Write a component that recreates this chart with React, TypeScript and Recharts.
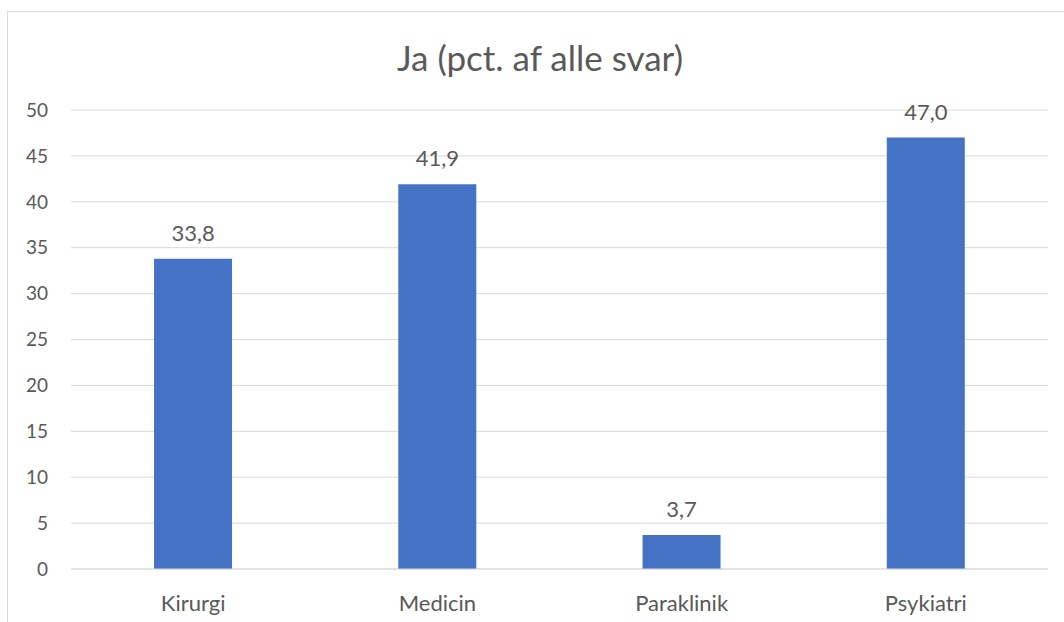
import { BarChart, Bar, XAxis, YAxis, CartesianGrid, LabelList } from "recharts";

const categories = ["Kirurgi", "Medicin", "Paraklinik", "Psykiatri"];
const values = [33.8, 41.9, 3.7, 47.0];
const yTicks = [0, 5, 10, 15, 20, 25, 30, 35, 40, 45, 50];

const data = categories.map((c, i) => ({ name: c, ja: values[i] }));
const font = "Lato, 'Open Sans', sans-serif";
const grey = "#595959";

export default function App() {
  return (
    <div style={{ position: "fixed", left: 0, top: 0, width: 1064, height: 622, background: "#fff", fontFamily: font, overflow: "hidden" }}>
      <div style={{ position: "absolute", left: 7, top: 11, width: 1100, height: 700, border: "1px solid #d9d9d9" }} />
      <div style={{ position: "absolute", left: 0, width: 1080, top: 36, textAlign: "center", fontSize: 35, lineHeight: "42px", color: grey }}>
        Ja (pct. af alle svar)
      </div>
      <div style={{ position: "absolute", left: 0, top: 0 }}>
        <BarChart width={1064} height={622} data={data} margin={{ top: 110, right: 16, bottom: 0, left: 0 }} barCategoryGap="34%">
          <CartesianGrid stroke="#d9d9d9" vertical={false} />
          <XAxis dataKey="name" height={53} axisLine={{ stroke: "#d9d9d9" }} tickLine={false} tickSize={0} tickMargin={26}
            tick={{ fontSize: 22, fill: grey, fontFamily: font }} />
          <YAxis width={71} domain={[0, 50]} ticks={yTicks} axisLine={false} tickLine={false} tickSize={0} tickMargin={23}
            tick={{ fontSize: 19, fill: grey, fontFamily: font }} />
          <Bar dataKey="ja" fill="#4472C4" isAnimationActive={false}>
            <LabelList dataKey="ja" position="top" offset={18} fontSize={22} fill={grey} fontFamily={font}
              formatter={(v: any) => Number(v).toFixed(1).replace(".", ",")} />
          </Bar>
        </BarChart>
      </div>
    </div>
  );
}
